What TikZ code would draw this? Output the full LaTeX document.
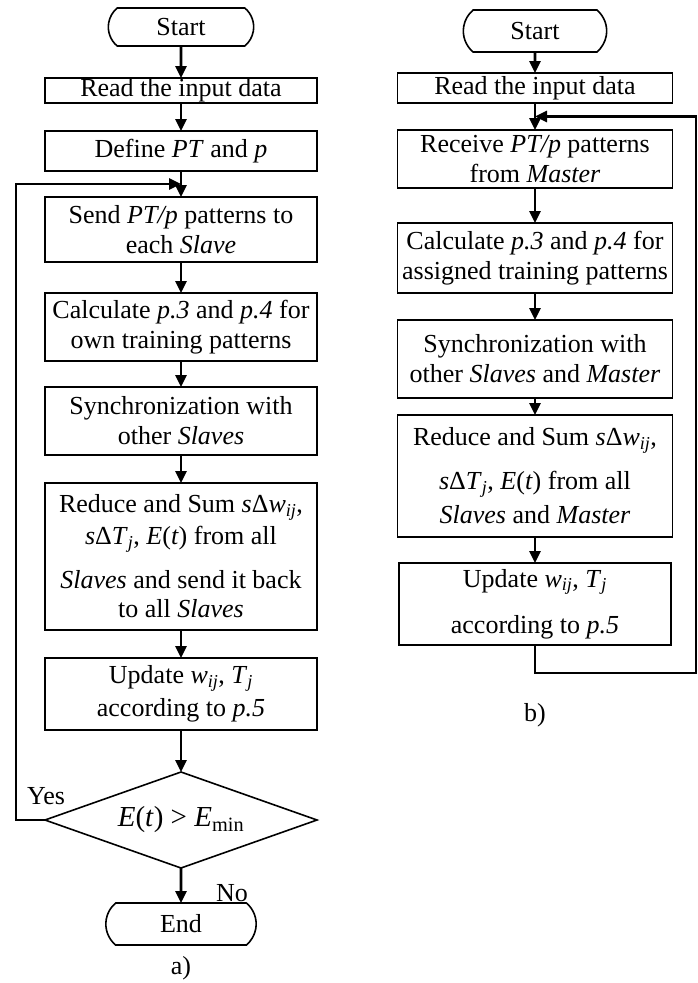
\documentclass[tikz,border=0pt]{standalone}
\usepackage{fontspec}
\setmainfont{Liberation Serif}
\usetikzlibrary{arrows.meta,positioning,shapes.geometric,shapes.misc,calc}

\begin{document}
\begin{tikzpicture}[
  x=1pt, y=1pt,
  txt/.style={font=\fontsize{26}{30}\selectfont},
  procbox/.style={draw, line width=1.6pt, txt, align=center, inner sep=2pt,
                  outer sep=0pt, minimum width=272pt},
  termbox/.style={draw, line width=1.6pt, txt, rounded rectangle,
                  rounded rectangle arc length=100, outer sep=0pt,
                  minimum width=152pt, minimum height=40pt},
  decide/.style={draw, line width=1.6pt, diamond, aspect=2.83, inner sep=0pt,
                 outer sep=0pt, minimum width=272pt, minimum height=96pt,
                 font=\fontsize{29}{32}\selectfont},
  flow/.style={-{Triangle[length=12pt,width=11pt]}, line width=2.6pt}
]
  \useasboundingbox (0,0) rectangle (698,-983);

  % a) master
  \node[termbox, minimum height=38pt]                     (startL) at (181,-27) {Start};
  \node[procbox, minimum height=25pt, inner ysep=0.5pt, below=32pt of startL] (readL)
    {Read the input data};
  \node[procbox, minimum height=40pt, below=28pt of readL]  (defL)  {Define \textit{PT} and \textit{p}};
  \node[procbox, minimum height=65pt, below=26pt of defL]   (sendL)
    {Send \textit{PT/p} patterns to\\each \textit{Slave}};
  \node[procbox, minimum height=68pt, below=31pt of sendL]  (calcL)
    {Calculate \textit{p.3} and \textit{p.4} for\\own training patterns};
  \node[procbox, minimum height=68pt, below=26pt of calcL]  (syncL)
    {Synchronization with\\other \textit{Slaves}};
  \node[procbox, minimum height=147pt, below=28pt of syncL] (redL)
    {Reduce and Sum \textit{s}Δ\textit{w}\textsubscript{\textit{ij}},\\[2pt]
     \textit{s}Δ\textit{T}\textsubscript{\textit{j}}, \textit{E}(\textit{t}) from all\\[14pt]
     \textit{Slaves} and send it back\\[-1pt]
     to all \textit{Slaves}};
  \node[procbox, minimum height=72pt, below=28pt of redL]   (updL)
    {Update \textit{w}\textsubscript{\textit{ij}}, \textit{T}\textsubscript{\textit{j}}\\[3pt]
     according to \textit{p.5}};
  \node[decide, below=42pt of updL] (testL)
    {\textit{E}(\textit{t}) > \textit{E}\textsubscript{min}};
  \node[termbox, minimum width=157pt, minimum height=42pt, below=35pt of testL] (endL) {End};

  \node[txt] (yesL) at (46,-796) {Yes};
  \node[txt] (noL)  at (232,-893) {No};
  \node[txt] (capA) at (181,-968) {a)};

  \foreach \a/\b in {startL/readL, readL/defL, defL/sendL, sendL/calcL,
                     calcL/syncL, syncL/redL, redL/updL, updL/testL, testL/endL}
    \draw[flow] (\a) -- (\b);

  \coordinate (joinL) at ($(defL.south)!0.5!(sendL.north)$);
  \draw[flow] (testL.west) -- ++(-29,0) |- (joinL);

  % b) slave
  \node[termbox, minimum width=150pt, minimum height=42pt]  (startR) at (535,-31) {Start};
  \node[procbox, minimum width=275pt, minimum height=30pt, below=21pt of startR] (readR)
    {Read the input data};
  \node[procbox, minimum width=275pt, minimum height=58pt, below=27pt of readR]  (recvR)
    {Receive \textit{PT/p} patterns\\from \textit{Master}};
  \node[procbox, minimum width=275pt, minimum height=70pt, below=35pt of recvR]  (calcR)
    {Calculate \textit{p.3} and \textit{p.4} for\\assigned training patterns};
  \node[procbox, minimum width=275pt, minimum height=78pt, below=27pt of calcR]  (syncR)
    {Synchronization with\\other \textit{Slaves} and \textit{Master}};
  \node[procbox, minimum width=275pt, minimum height=122pt, below=17pt of syncR] (redR)
    {Reduce and Sum \textit{s}Δ\textit{w}\textsubscript{\textit{ij}},\\[14pt]
     \textit{s}Δ\textit{T}\textsubscript{\textit{j}}, \textit{E}(\textit{t}) from all\\[4pt]
     \textit{Slaves} and \textit{Master}};
  \node[procbox, minimum height=82pt, below=26pt of redR] (updR)
    {Update \textit{w}\textsubscript{\textit{ij}}, \textit{T}\textsubscript{\textit{j}}\\[16pt]
     according to \textit{p.5}};

  \node[txt] (capB) at (535,-715) {b)};

  \foreach \a/\b in {startR/readR, readR/recvR, recvR/calcR, calcR/syncR,
                     syncR/redR, redR/updR}
    \draw[flow] (\a) -- (\b);

  \coordinate (joinR) at ($(readR.south)!0.5!(recvR.north)$);
  \coordinate (edgeR) at (696,-673);
  \draw[flow] (updR.south) |- (edgeR) |- (joinR);
\end{tikzpicture}
\end{document}
